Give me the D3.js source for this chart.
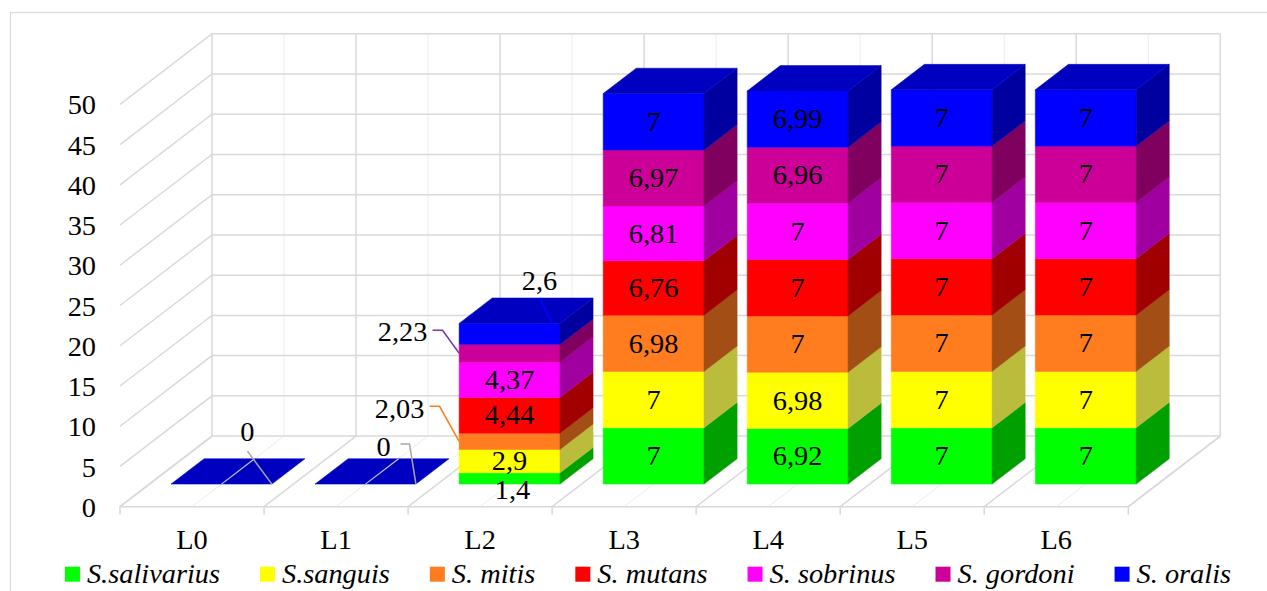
<!DOCTYPE html>
<html>
<head>
<meta charset="utf-8">
<script src="https://cdn.jsdelivr.net/npm/d3@7/dist/d3.min.js"></script>
<style>
  body { margin: 0; background: #fff; }
  text { font-family: "Liberation Serif", "Times New Roman", serif; fill: #000; }
</style>
</head>
<body>
<div id="chart"></div>
<script>
var categories = ["L0", "L1", "L2", "L3", "L4", "L5", "L6"];
var seriesNames = ["S.salivarius", "S.sanguis", "S. mitis", "S. mutans", "S. sobrinus", "S. gordoni", "S. oralis"];

var salivarius = [0, 0, 1.4, 7, 6.92, 7, 7];
var sanguis    = [0, 0, 2.9, 7, 6.98, 7, 7];
var mitis      = [0, 0, 2.03, 6.98, 7, 7, 7];
var mutans     = [0, 0, 4.44, 6.76, 7, 7, 7];
var sobrinus   = [0, 0, 4.37, 6.81, 7, 7, 7];
var gordoni    = [0, 0, 2.23, 6.97, 6.96, 7, 7];
var oralis     = [0, 0, 2.6, 7, 6.99, 7, 7];

var frontColors = ["#00ff00", "#ffff00", "#ff7c1f", "#ff0000", "#ff00ff", "#cc0099", "#0000ff"];
var sideColors  = ["#00a000", "#bcbc3c", "#a24e15", "#a00000", "#a000a0", "#80005f", "#0000a0"];
var topColors   = ["#00c000", "#c0c000", "#c05c18", "#c00000", "#c000c0", "#990073", "#0000c0"];

// labels that were dragged off their bars in the original (offsets from segment centre)
var callouts = [
  {cat: "L0", s: 6, dx: 26, dy: -52, leader: "drop", color: "#a6a6a6"},
  {cat: "L1", s: 6, dx: 18, dy: -37, leader: "elbowRight", color: "#a6a6a6"},
  {cat: "L2", s: 0, dx: 3, dy: 11, leader: null},
  {cat: "L2", s: 2, dx: -110, dy: -33, leader: "elbowLeft", color: "#ff7c1f"},
  {cat: "L2", s: 5, dx: -107, dy: -21, leader: "elbowLeft", color: "#7a35a8"},
  {cat: "L2", s: 6, dx: 30, dy: -53, leader: "top", color: "#0000ff"}
];

var width = 1267, height = 591;
var fontSize = 27, stretch = 1.05;
var floorY = 506.7, depthX = 92, depthY = 70.6;
var z0 = 0.32, z1 = 0.68, barPad = 0.15;
var major = "#d9d9d9", minor = "#ececec";

var svg = d3.select("#chart").append("svg")
  .attr("width", width)
  .attr("height", height);

var x = d3.scaleBand().domain(categories).range([120, 1128.3]);
var y = d3.scaleLinear().domain([0, 50]).range([0, 402.4]);

// oblique 3d projection: px along the front, z in depth (0 front, 1 back), v value
function P(px, z, v) {
  return [px + z * depthX, floorY - z * depthY - y(v)];
}
function poly(pts) {
  return "M" + pts.map(function(p) { return p[0] + "," + p[1]; }).join("L") + "Z";
}
function line(pts) {
  return "M" + pts.map(function(p) { return p[0] + "," + p[1]; }).join("L");
}
function label(g, txt, px, py, anchor, baseline) {
  return g.append("text")
    .attr("transform", "translate(" + px + "," + py + ") scale(" + stretch + ",1)")
    .attr("text-anchor", anchor || "middle")
    .attr("dy", baseline == null ? "0.34em" : baseline)
    .attr("font-family", "Liberation Serif")
    .style("font-size", fontSize + "px")
    .text(txt);
}
function fmt(v) { return String(+v.toFixed(2)).replace(".", ","); }

// outer chart border
svg.append("rect")
  .attr("x", 10.5).attr("y", 12.5)
  .attr("width", 1400).attr("height", 800)
  .attr("fill", "none").attr("stroke", major).attr("stroke-width", 1.2);

var grid = svg.append("g").attr("fill", "none");
var x0 = x.range()[0], x1 = x.range()[1], step = x.step();
var ticks = y.ticks(10);

// back wall verticals (category centres = minor, boundaries = major)
categories.forEach(function(c) {
  var xc = x(c) + step / 2;
  grid.append("path").attr("d", line([P(xc, 1, 0), P(xc, 1, 50)]))
    .attr("stroke", minor).attr("stroke-width", 1);
  grid.append("path").attr("d", line([P(xc, 0, 0), P(xc, 1, 0)]))
    .attr("stroke", minor).attr("stroke-width", 1);
});
d3.range(categories.length + 1).forEach(function(i) {
  var xb = x0 + i * step;
  grid.append("path").attr("d", line([P(xb, 1, 0), P(xb, 1, 50)]))
    .attr("stroke", major).attr("stroke-width", 1.5);
  grid.append("path").attr("d", line([[xb, floorY + 8], P(xb, 0, 0), P(xb, 1, 0)]))
    .attr("stroke", major).attr("stroke-width", 1.5);
});
// value gridlines: left side wall diagonal + back wall horizontal
ticks.forEach(function(t) {
  grid.append("path").attr("d", line([P(x0, 0, t), P(x0, 1, t), P(x1, 1, t)]))
    .attr("stroke", major).attr("stroke-width", 1.5);
});
// floor front and right edges
grid.append("path").attr("d", line([P(x0, 0, 0), P(x1, 0, 0), P(x1, 1, 0)]))
  .attr("stroke", major).attr("stroke-width", 1.5);

// y tick labels
var axisG = svg.append("g");
ticks.forEach(function(t) {
  label(axisG, t, 96, P(x0, 0, t)[1] + 1, "end");
});
// category labels
categories.forEach(function(c) {
  label(axisG, c, x(c) + step / 2, 548.5, "middle", 0);
});

// stacked 3d bars
var rows = categories.map(function(c, i) {
  return {cat: c, "S.salivarius": salivarius[i], "S.sanguis": sanguis[i], "S. mitis": mitis[i],
    "S. mutans": mutans[i], "S. sobrinus": sobrinus[i], "S. gordoni": gordoni[i], "S. oralis": oralis[i]};
});
var stack = d3.stack().keys(seriesNames)(rows);

var bars = svg.append("g");
var labelsG = svg.append("g");
var segCenter = {};

categories.forEach(function(c, i) {
  var xl = x(c) + step * barPad, xr = x(c) + step * (1 - barPad);
  var total = stack[stack.length - 1][i][1];
  stack.forEach(function(layer, k) {
    var v0 = layer[i][0], v1 = layer[i][1];
    var cx = (P(xl, z0, 0)[0] + P(xr, z0, 0)[0]) / 2;
    segCenter[c + "_" + k] = {x: cx, y: P(xl, z0, (v0 + v1) / 2)[1], xl: P(xl, z0, 0)[0], xr: P(xr, z0, 0)[0],
      top: P(xl, z0, v1)[1], bottom: P(xl, z0, v0)[1], v: v1 - v0};
    if (v1 <= v0) return;
    bars.append("path")
      .attr("d", poly([P(xl, z0, v0), P(xr, z0, v0), P(xr, z0, v1), P(xl, z0, v1)]))
      .attr("fill", frontColors[k]).attr("stroke", frontColors[k]).attr("stroke-width", 0.5);
    bars.append("path")
      .attr("d", poly([P(xr, z0, v0), P(xr, z1, v0), P(xr, z1, v1), P(xr, z0, v1)]))
      .attr("fill", sideColors[k]).attr("stroke", sideColors[k]).attr("stroke-width", 0.5);
  });
  // top face of the stack (flat for empty stacks)
  bars.append("path")
    .attr("d", poly([P(xl, z0, total), P(xr, z0, total), P(xr, z1, total), P(xl, z1, total)]))
    .attr("fill", topColors[6]).attr("stroke", topColors[6]).attr("stroke-width", 0.5);
  if (total === 0) {
    var xc = x(c) + step / 2;
    bars.append("path").attr("d", line([P(xc, z0, 0), P(xc, z1, 0)]))
      .attr("stroke", "#c8c8e8").attr("stroke-width", 1.2).attr("fill", "none");
  }
});

// data labels
var moved = {};
callouts.forEach(function(d) { moved[d.cat + "_" + d.s] = d; });

categories.forEach(function(c, i) {
  stack.forEach(function(layer, k) {
    var key = c + "_" + k, sc = segCenter[key];
    var val = layer[i][1] - layer[i][0];
    var co = moved[key];
    if (co) {
      var lx = sc.x + co.dx, ly = sc.y + co.dy;
      label(labelsG, fmt(val), lx, ly);
      var pts = null;
      if (co.leader === "elbowLeft") {
        pts = [[lx + 30, ly - 2], [lx + 40, ly - 2], [sc.xl, sc.y]];
      } else if (co.leader === "elbowRight") {
        pts = [[lx + 17, ly - 3], [lx + 26, ly - 3], [sc.xr, sc.bottom]];
      } else if (co.leader === "drop") {
        pts = [[lx, ly + 19], [sc.xr, sc.bottom]];
      } else if (co.leader === "top") {
        pts = [[lx, ly + 17], [sc.xr - 7, sc.top + 1.5]];
      }
      if (pts) {
        labelsG.append("path").attr("d", line(pts))
          .attr("fill", "none").attr("stroke", co.color).attr("stroke-width", 1.5);
      }
    } else if (val > 0) {
      label(labelsG, fmt(val), sc.x, sc.y);
    }
  });
});

// legend
var legend = svg.append("g");
var items = seriesNames.map(function(n, k) {
  var g = legend.append("g");
  g.append("rect").attr("width", 15).attr("height", 15).attr("y", -16.6).attr("fill", frontColors[k]);
  var t = g.append("text")
    .attr("transform", "translate(22,0) scale(" + stretch + ",1)")
    .attr("font-family", "Liberation Serif")
    .style("font-size", fontSize + "px").style("font-style", "italic")
    .text(n);
  return {g: g, w: 22 + t.node().getComputedTextLength() * stretch};
});
var gap = 40;
var totalW = d3.sum(items, function(d) { return d.w; }) + gap * (items.length - 1);
var lx = 648 - totalW / 2;
items.forEach(function(d) {
  d.g.attr("transform", "translate(" + lx + ",583.3)");
  lx += d.w + gap;
});
</script>
</body>
</html>
